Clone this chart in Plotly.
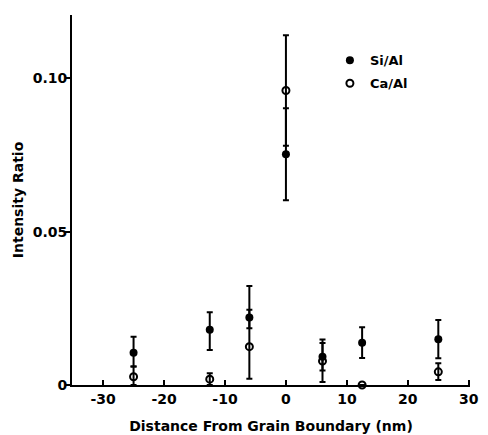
import plotly.graph_objects as go

# Distance from grain boundary (nm)
distance = [-25, -12.5, -6, 0, 6, 12.5, 25]

# Si/Al intensity ratio (filled circles) and its error bars
si_al = [0.0105, 0.018, 0.022, 0.0752, 0.0092, 0.0138, 0.0149]
si_al_err_plus = [0.0052, 0.0057, 0.0025, 0.015, 0.0045, 0.005, 0.0063]
si_al_err_minus = [0.0045, 0.0066, 0.0035, 0.015, 0.0045, 0.005, 0.0062]

# Ca/Al intensity ratio (open circles) and its error bars
ca_al = [0.0027, 0.0019, 0.0125, 0.096, 0.0078, 0.0, 0.0043]
ca_al_err_plus = [0.0033, 0.0019, 0.0198, 0.018, 0.007, 0.0, 0.0028]
ca_al_err_minus = [0.0027, 0.0019, 0.0105, 0.018, 0.0068, 0.0, 0.0027]

x_ticks = [-30, -20, -10, 0, 10, 20, 30]
x_tick_labels = ["-30", "-20", "-10", "0", "10", "20", "30"]
y_ticks = [0, 0.05, 0.10]
y_tick_labels = ["0", "0.05", "0.10"]

FONT = "DejaVu Sans"

fig = go.Figure()

fig.add_trace(go.Scatter(
    x=distance, y=si_al, mode="markers", name="<b>Si/Al</b>", legend="legend",
    marker=dict(symbol="circle", size=8, color="black"),
    error_y=dict(type="data", symmetric=False, array=si_al_err_plus,
                 arrayminus=si_al_err_minus, color="black", thickness=2, width=3),
    cliponaxis=False,
))

fig.add_trace(go.Scatter(
    x=distance, y=ca_al, mode="markers", name="<b>Ca/Al</b>", legend="legend2",
    marker=dict(symbol="circle-open", size=7, color="black", line=dict(width=2)),
    error_y=dict(type="data", symmetric=False, array=ca_al_err_plus,
                 arrayminus=ca_al_err_minus, color="black", thickness=2, width=3),
    cliponaxis=False,
))

legend_common = dict(xanchor="left", yanchor="top", bgcolor="rgba(0,0,0,0)",
                     font=dict(size=13, family=FONT), itemwidth=30)

fig.update_layout(
    width=488, height=435,
    margin=dict(l=72, r=18, t=15, b=50, autoexpand=False),
    paper_bgcolor="white", plot_bgcolor="white",
    font=dict(family=FONT, size=14, color="black"),
    showlegend=True,
    legend=dict(x=0.648, y=0.918, **legend_common),
    legend2=dict(x=0.648, y=0.856, **legend_common),
)

fig.update_xaxes(
    range=[-35.1, 30.2], showgrid=False, zeroline=False, automargin=False,
    showline=True, linecolor="black", linewidth=2,
    ticks="inside", ticklen=5, tickwidth=1.5, tickcolor="black",
    tickvals=x_ticks, ticktext=["<b>%s</b>" % t for t in x_tick_labels],
    tickfont=dict(size=14, family=FONT),
    title=dict(text="<b>Distance From Grain Boundary (nm)</b>",
               font=dict(size=14, family=FONT), standoff=15),
)

fig.update_yaxes(
    range=[0, 0.1206], showgrid=False, zeroline=False, automargin=False,
    showline=True, linecolor="black", linewidth=2,
    ticks="outside", ticklen=5, tickwidth=1.5, tickcolor="black",
    tickvals=y_ticks, ticktext=["<b>%s</b>" % t for t in y_tick_labels],
    tickfont=dict(size=14, family=FONT), ticklabelstandoff=-5,
    title=dict(text="<b>Intensity Ratio</b>",
               font=dict(size=14, family=FONT), standoff=6),
)

fig.write_html("out.html", config={"displayModeBar": False},
               post_script="document.body.style.margin='0';document.body.style.overflow='hidden';")
